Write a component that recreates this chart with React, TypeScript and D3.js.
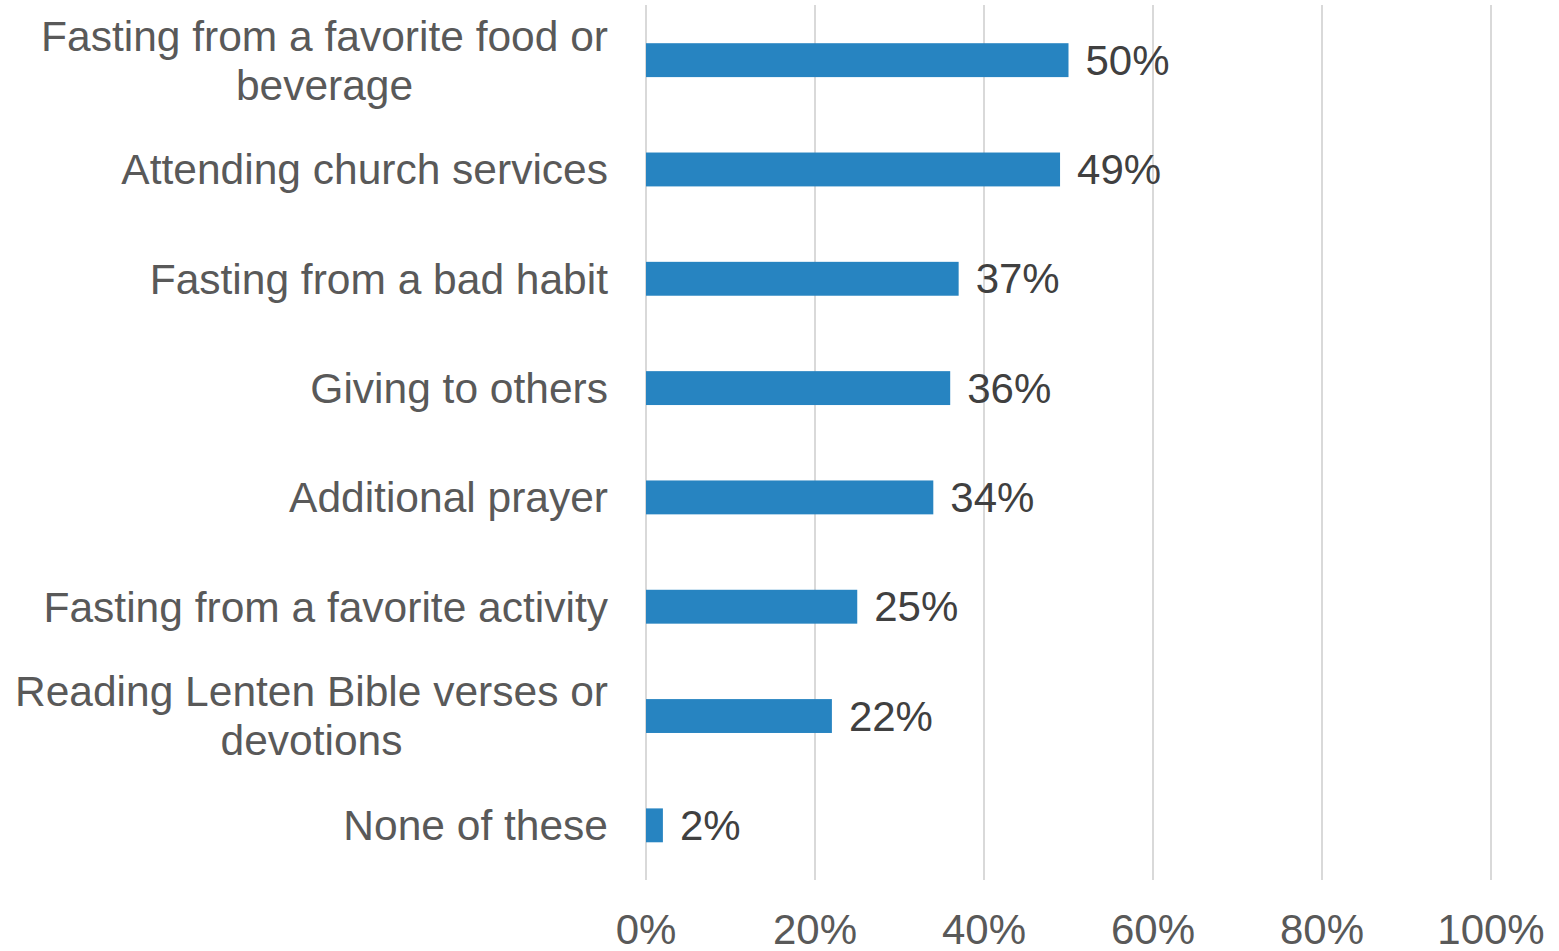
import React from "react";
import * as d3 from "d3";

const categories: string[][] = [
  ["Fasting from a favorite food or", "beverage"],
  ["Attending church services"],
  ["Fasting from a bad habit"],
  ["Giving to others"],
  ["Additional prayer"],
  ["Fasting from a favorite activity"],
  ["Reading Lenten Bible verses or", "devotions"],
  ["None of these"],
];
const values: number[] = [50, 49, 37, 36, 34, 25, 22, 2];
const ticks: number[] = [0, 20, 40, 60, 80, 100];

const W = 1559;
const H = 951;
const FONT = "'Liberation Sans', Arial, Helvetica, sans-serif";

function measure(text: string, size: number): number {
  if (typeof document === "undefined") return text.length * size * 0.5;
  const c = (measure as any).c || ((measure as any).c = document.createElement("canvas"));
  const ctx = c.getContext("2d");
  ctx.font = `${size}px ${FONT}`;
  return ctx.measureText(text).width;
}

export default function App() {
  const x = d3.scaleLinear().domain([0, 100]).range([646, 1491]);
  const keys = categories.map((_, i) => String(i));
  const y = d3.scaleBand().domain(keys).range([5.5, 880]).paddingInner(0.69).paddingOuter(0.345);
  const fsCat = 42.5;
  const fsVal = 42;
  const fsTick = 42;
  const lineH = 49;
  const labelRight = 608;

  return (
    <svg width={W} height={H} style={{ position: "absolute", left: 0, top: 0, background: "#fff" }}>
      {ticks.map((t) => (
        <line key={"g" + t} x1={x(t)} x2={x(t)} y1={5} y2={880} stroke="#d9d9d9" strokeWidth={2} />
      ))}
      {values.map((v, i) => {
        const yb = y(String(i))!;
        return (
          <g key={"b" + i}>
            <rect x={x(0)} y={yb} width={x(v) - x(0)} height={y.bandwidth()} fill="#2784C1" />
            <text
              x={x(v) + 17}
              y={yb + y.bandwidth() / 2}
              dy="0.35em"
              fontSize={fsVal}
              fontFamily={FONT}
              fill="#404040"
            >
              {v + "%"}
            </text>
          </g>
        );
      })}
      {categories.map((lines, i) => {
        const cy = y(String(i))! + y.bandwidth() / 2;
        const blockW = Math.max(...lines.map((l) => measure(l, fsCat)));
        const cx = labelRight - blockW / 2;
        const n = lines.length;
        return (
          <text key={"c" + i} fontSize={fsCat} fontFamily={FONT} fill="#595959" textAnchor="middle">
            {lines.map((l, j) => (
              <tspan key={j} x={cx} y={cy + (j - (n - 1) / 2) * lineH} dy="0.35em">
                {l}
              </tspan>
            ))}
          </text>
        );
      })}
      {ticks.map((t) => (
        <text
          key={"t" + t}
          x={x(t)}
          y={944}
          textAnchor="middle"
          fontSize={fsTick}
          fontFamily={FONT}
          fill="#595959"
        >
          {t + "%"}
        </text>
      ))}
    </svg>
  );
}
